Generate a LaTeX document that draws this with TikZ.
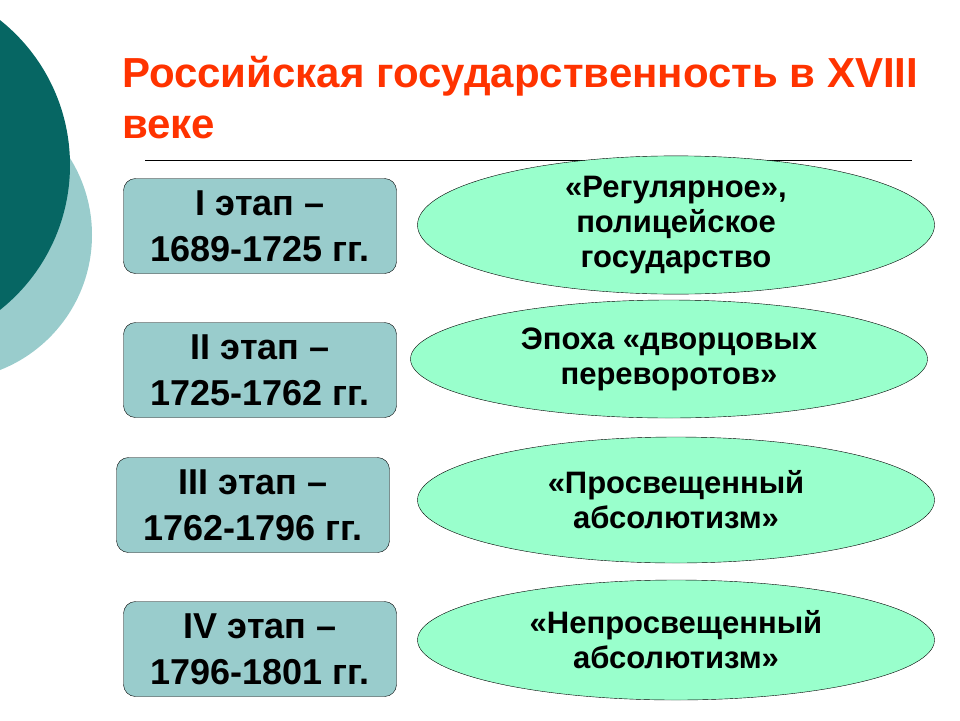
\documentclass[tikz,border=0pt]{standalone}
\usepackage{fontspec}
\setmainfont{Liberation Sans}
\usetikzlibrary{shapes.geometric}
\definecolor{tealdark}{HTML}{066663}
\definecolor{teallight}{HTML}{99CCCC}
\definecolor{ovalgreen}{HTML}{99FFCC}
\definecolor{titlered}{HTML}{FF3300}
\tikzset{
  stagebox/.style={draw=black, fill=teallight, rounded corners=12pt,
    minimum width=273pt, minimum height=95pt, inner sep=0pt, align=center,
    font=\fontsize{36}{46}\selectfont\bfseries},
  epochoval/.style={draw=black, fill=ovalgreen, ellipse,
    minimum width=517pt, minimum height=116pt, inner sep=0pt, align=center,
    font=\fontsize{31}{35}\selectfont\bfseries},
  headline/.style={anchor=base west, text=titlered, inner sep=0pt,
    font=\fontsize{42}{48}\selectfont\bfseries}
}
\begin{document}
\begin{tikzpicture}[x=1pt,y=-1pt]
    \useasboundingbox (0,0) rectangle (960,720);
    % circles in the corner
    \begin{scope}
      \clip (0,0) rectangle (960,720);
      \fill[teallight] (-53,235) circle (145pt);
      \fill[tealdark] (-115,165) circle (185pt);
    \end{scope}
    \node[headline] (title) at (122,87) {Российская государственность в XVIII};
    \node[headline] (title2) at (122,138) {веке};
    \coordinate (ruleA) at (145,160);
    \coordinate (ruleB) at (912,160);
    \draw (ruleA) -- (ruleB);
    % stages
    \node[stagebox] (s1) at (260,226) {I этап –\\1689-1725 гг.};
    \node[stagebox] (s2) at (260,370) {II этап –\\1725-1762 гг.};
    \node[stagebox] (s3) at (253,505) {III этап –\\1762-1796 гг.};
    \node[stagebox] (s4) at (260,649) {IV этап –\\1796-1801 гг.};
    % epochs
    \node[epochoval, minimum height=114pt] (e1) at (676,225) {«Регулярное»,\\полицейское\\государство};
    \node[epochoval, minimum height=118pt] (e2) at (669,359) {Эпоха «дворцовых\\переворотов»};
    \node[epochoval, minimum height=126pt] (e3) at (676,500) {«Просвещенный\\абсолютизм»};
    \node[epochoval, minimum height=120pt] (e4) at (676,640) {«Непросвещенный\\абсолютизм»};
\end{tikzpicture}
\end{document}
